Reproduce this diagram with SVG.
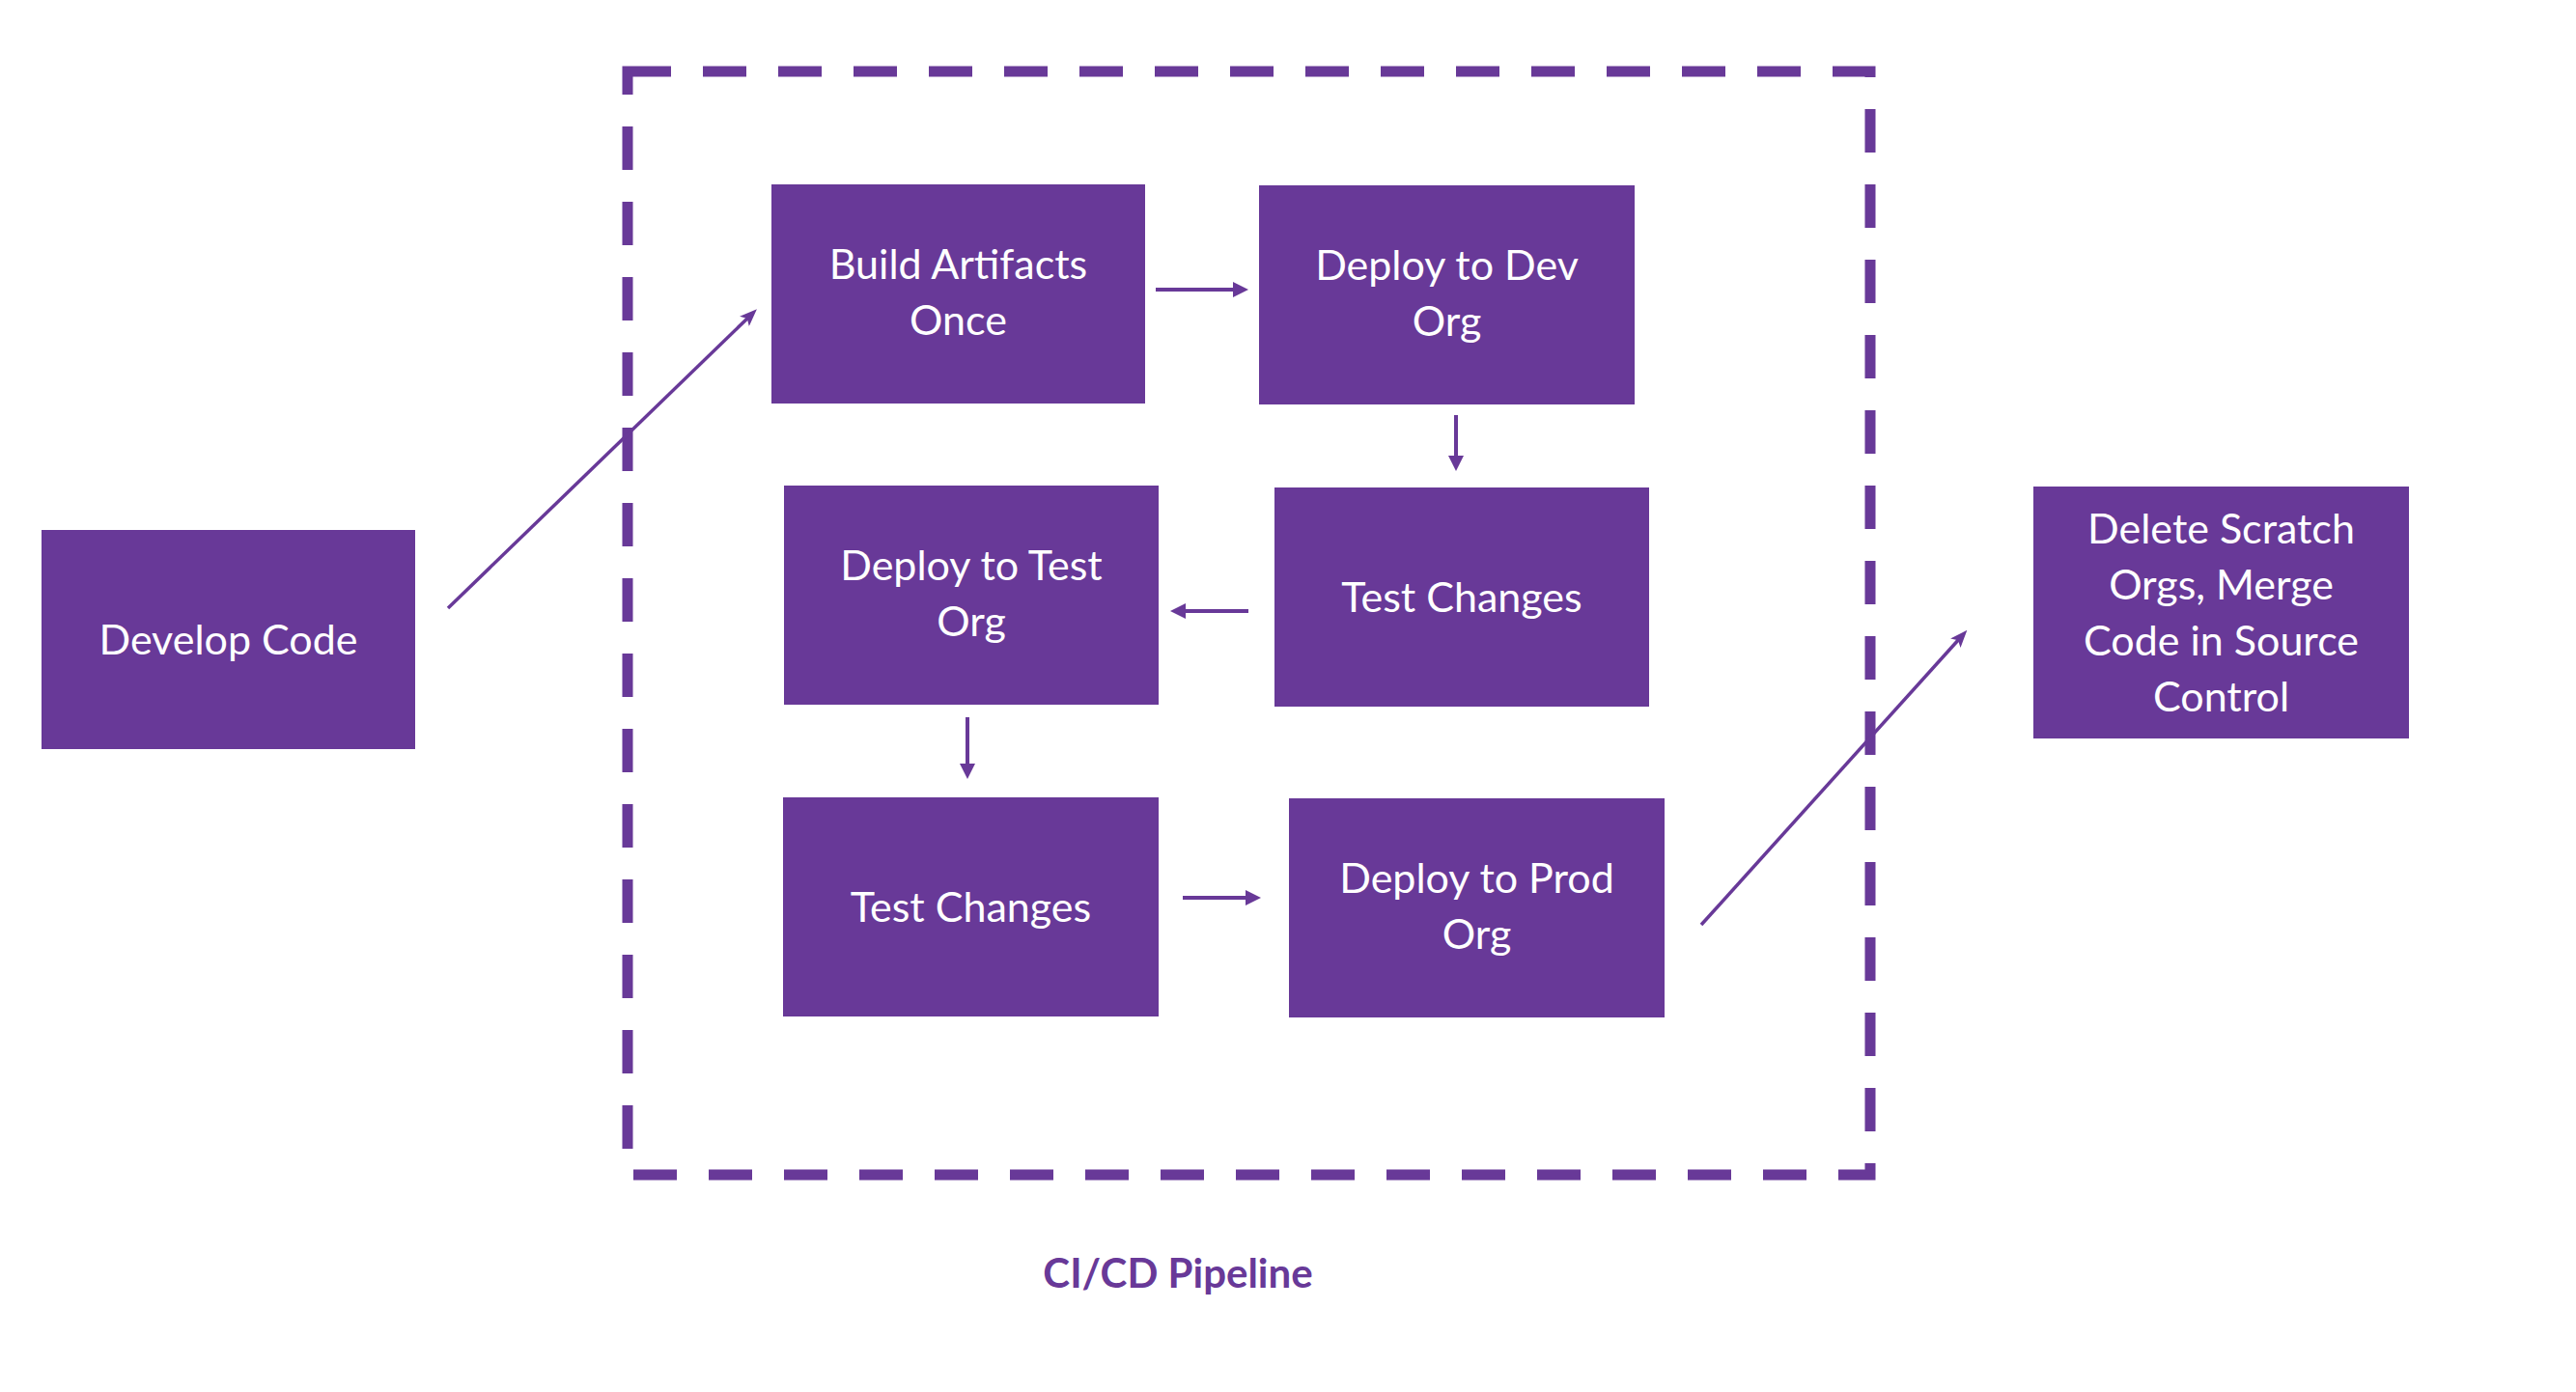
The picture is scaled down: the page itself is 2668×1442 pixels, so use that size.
<svg xmlns="http://www.w3.org/2000/svg" width="2668" height="1442" viewBox="0 0 2668 1442">
<style>
.box{fill:#683998;}
.lbl{font-family:Lato,"Liberation Sans",sans-serif;font-size:43px;fill:#ffffff;text-anchor:middle;}
.conn{stroke:#683998;stroke-width:4;fill:none;}
.diag{stroke:#683998;stroke-width:3.5;fill:none;}
.frame{fill:none;stroke:#683998;stroke-width:11;stroke-dasharray:45 33;}
.title{font-family:Lato,"Liberation Sans",sans-serif;font-size:42px;font-weight:bold;fill:#683998;text-anchor:middle;}
</style>
<defs>
<marker id="ah" markerUnits="userSpaceOnUse" markerWidth="16" markerHeight="16" refX="8" refY="8" orient="auto">
<path d="M0,0 L16,8 L0,16 z" fill="#683998"/>
</marker>
<marker id="ahd" markerUnits="userSpaceOnUse" markerWidth="18" markerHeight="14" refX="7" refY="7" orient="auto">
<path d="M0,0 L18,7 L0,14 L4,7 z" fill="#683998"/>
</marker>
</defs>
<rect id="pipeline-frame" class="frame" x="650" y="74" width="1287" height="1143"/>
<g id="connectors">
<line class="diag" x1="464" y1="630" x2="776" y2="328" marker-end="url(#ahd)"/>
<line class="conn" x1="1197" y1="300" x2="1285" y2="300" marker-end="url(#ah)"/>
<line class="conn" x1="1508" y1="430" x2="1508" y2="480" marker-end="url(#ah)"/>
<line class="conn" x1="1293" y1="633" x2="1220" y2="633" marker-end="url(#ah)"/>
<line class="conn" x1="1002" y1="743" x2="1002" y2="799" marker-end="url(#ah)"/>
<line class="conn" x1="1225" y1="930" x2="1298" y2="930" marker-end="url(#ah)"/>
<line class="diag" x1="1762" y1="958" x2="2030" y2="661" marker-end="url(#ahd)"/>
</g>
<g id="develop-code">
<rect class="box" x="43" y="549" width="387" height="227"/>
<text class="lbl" x="236.5" y="678">Develop Code</text>
</g>
<g id="build-artifacts">
<rect class="box" x="799" y="191" width="387" height="227"/>
<text class="lbl" x="992.5" y="289">Build Artifacts</text>
<text class="lbl" x="992.5" y="347">Once</text>
</g>
<g id="deploy-dev">
<rect class="box" x="1304" y="192" width="389" height="227"/>
<text class="lbl" x="1498.5" y="290">Deploy to Dev</text>
<text class="lbl" x="1498.5" y="348">Org</text>
</g>
<g id="test-changes-1">
<rect class="box" x="1320" y="505" width="388" height="227"/>
<text class="lbl" x="1514" y="634">Test Changes</text>
</g>
<g id="deploy-test">
<rect class="box" x="812" y="503" width="388" height="227"/>
<text class="lbl" x="1006" y="601">Deploy to Test</text>
<text class="lbl" x="1006" y="659">Org</text>
</g>
<g id="test-changes-2">
<rect class="box" x="811" y="826" width="389" height="227"/>
<text class="lbl" x="1005.5" y="955">Test Changes</text>
</g>
<g id="deploy-prod">
<rect class="box" x="1335" y="827" width="389" height="227"/>
<text class="lbl" x="1529.5" y="925">Deploy to Prod</text>
<text class="lbl" x="1529.5" y="983">Org</text>
</g>
<g id="delete-scratch">
<rect class="box" x="2106" y="504" width="389" height="261"/>
<text class="lbl" x="2300.5" y="563">Delete Scratch</text>
<text class="lbl" x="2300.5" y="621">Orgs, Merge</text>
<text class="lbl" x="2300.5" y="679">Code in Source</text>
<text class="lbl" x="2300.5" y="737">Control</text>
</g>
<text id="pipeline-title" class="title" x="1220" y="1334">CI/CD Pipeline</text>
</svg>
